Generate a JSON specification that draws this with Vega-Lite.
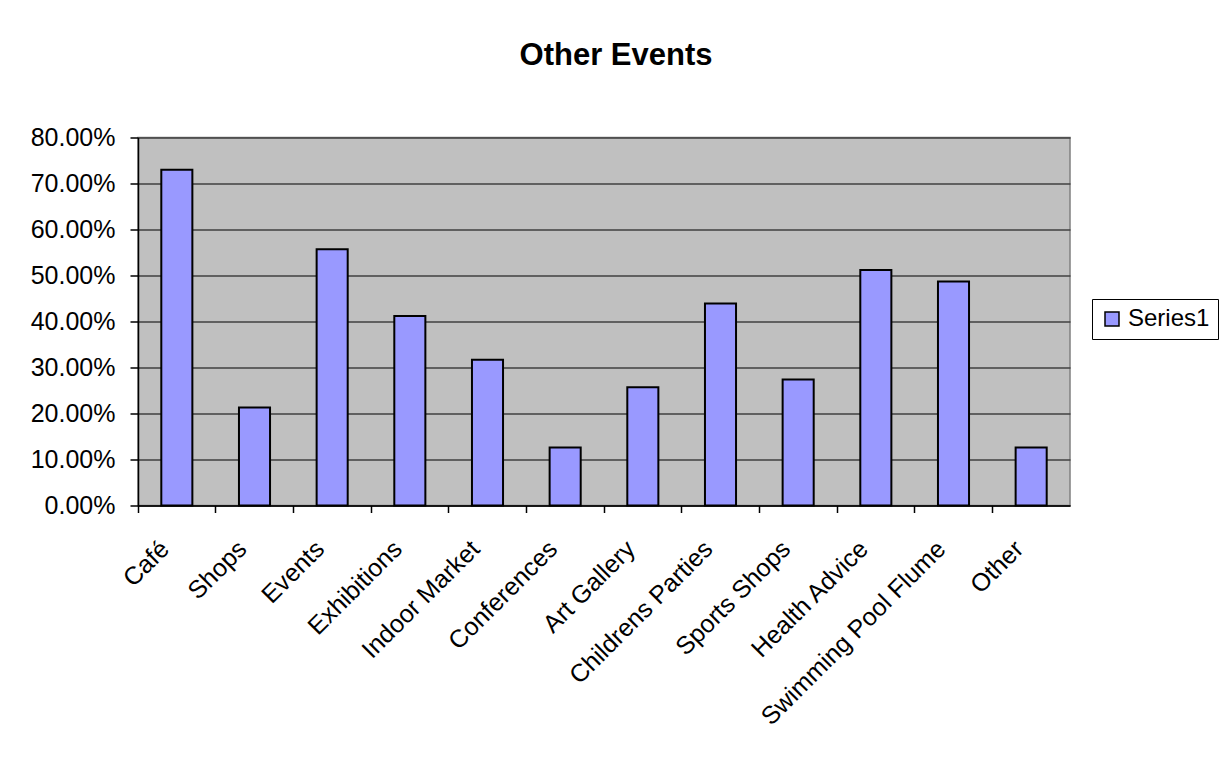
{
  "$schema": "https://vega.github.io/schema/vega-lite/v6.json",
  "autosize": {"type": "none"},
  "padding": {"left": 138, "top": 137.5, "right": 154, "bottom": 263.5},
  "width": 932,
  "height": 368,
  "background": "white",
  "title": {
    "text": "Other Events",
    "font": "Liberation Sans",
    "fontSize": 31,
    "fontWeight": "bold",
    "color": "black",
    "anchor": "middle",
    "frame": "group",
    "dx": 12,
    "baseline": "alphabetic",
    "offset": 30
  },
  "data": {
    "values": [
      {"category": "Café", "value": 0.73, "series": "Series1"},
      {"category": "Shops", "value": 0.213, "series": "Series1"},
      {"category": "Events", "value": 0.557, "series": "Series1"},
      {"category": "Exhibitions", "value": 0.412, "series": "Series1"},
      {"category": "Indoor Market", "value": 0.317, "series": "Series1"},
      {"category": "Conferences", "value": 0.126, "series": "Series1"},
      {"category": "Art Gallery", "value": 0.257, "series": "Series1"},
      {"category": "Childrens Parties", "value": 0.439, "series": "Series1"},
      {"category": "Sports Shops", "value": 0.274, "series": "Series1"},
      {"category": "Health Advice", "value": 0.512, "series": "Series1"},
      {"category": "Swimming Pool Flume", "value": 0.487, "series": "Series1"},
      {"category": "Other", "value": 0.126, "series": "Series1"}
    ]
  },
  "mark": {
    "type": "bar",
    "width": {"band": 0.4},
    "stroke": "black",
    "strokeWidth": 2
  },
  "encoding": {
    "x": {
      "field": "category",
      "type": "nominal",
      "sort": null,
      "title": null,
      "scale": {"paddingInner": 0, "paddingOuter": 0},
      "axis": {
        "bandPosition": 0,
        "labelAngle": -45,
        "labelOffset": -12,
        "labelPadding": 32,
        "labelFont": "Liberation Sans",
        "labelFontSize": 25,
        "labelColor": "black",
        "labelAlign": "right",
        "labelBaseline": "middle",
        "labelLimit": 0,
        "domainColor": "black",
        "domainWidth": 1.5,
        "tickColor": "black",
        "tickWidth": 1.5,
        "tickSize": 7,
        "grid": false,
        "labelOverlap": false,
        "labelBound": false,
        "labelFlush": false
      }
    },
    "y": {
      "field": "value",
      "type": "quantitative",
      "title": null,
      "scale": {"domain": [0, 0.8], "nice": false},
      "axis": {
        "values": [0, 0.1, 0.2, 0.3, 0.4, 0.5, 0.6, 0.7, 0.8],
        "format": ".2%",
        "labelFont": "Liberation Sans",
        "labelFontSize": 25,
        "labelColor": "black",
        "labelPadding": 15,
        "domainColor": "black",
        "domainWidth": 1.5,
        "tickColor": "black",
        "tickWidth": 1.5,
        "tickSize": 8,
        "grid": true,
        "gridColor": "#404040",
        "gridWidth": 1.3,
        "labelOverlap": false,
        "labelBound": false,
        "labelFlush": false
      }
    },
    "color": {
      "field": "series",
      "type": "nominal",
      "scale": {"range": ["#9999FF"]},
      "legend": {
        "title": null,
        "orient": "none",
        "legendX": 954,
        "legendY": 161.5,
        "padding": 8,
        "strokeColor": "black",
        "fillColor": "white",
        "symbolType": "square",
        "symbolSize": 196,
        "symbolStrokeColor": "black",
        "symbolStrokeWidth": 1.5,
        "symbolOpacity": 1,
        "labelFont": "Liberation Sans",
        "labelFontSize": 24,
        "labelColor": "black",
        "labelOffset": 4
      }
    }
  },
  "config": {
    "view": {"fill": "#C0C0C0", "stroke": "#808080", "strokeWidth": 1.5}
  }
}
